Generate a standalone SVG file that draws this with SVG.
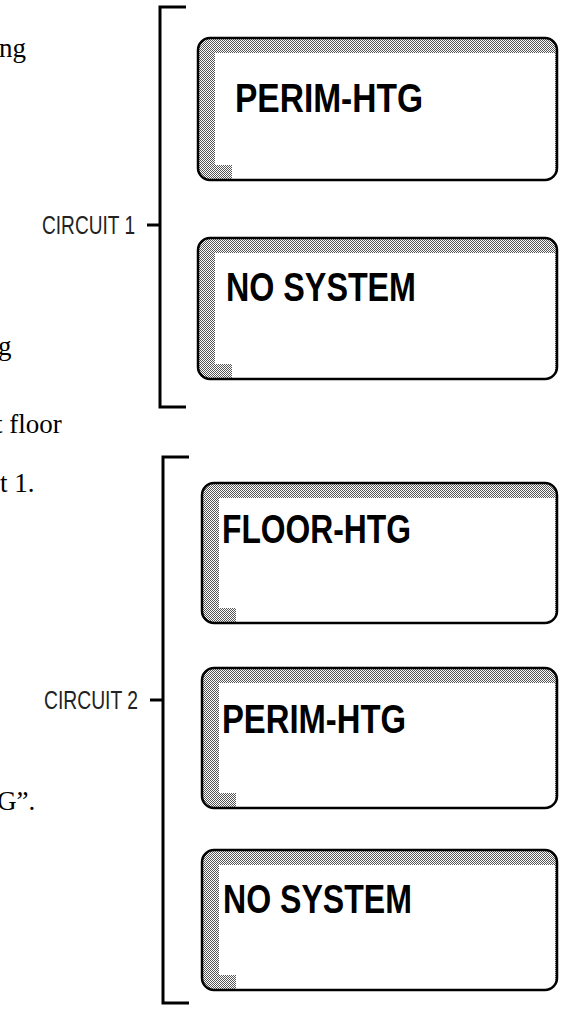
<svg xmlns="http://www.w3.org/2000/svg" width="564" height="1015" viewBox="0 0 564 1015">
<style>
.frame{fill:none;stroke:#000;stroke-width:2.5}
.shade{fill:url(#dither)}
.inner{fill:#fff}
.lbl{font-family:"Liberation Sans",Arial,sans-serif;font-weight:bold;font-size:40px;fill:#000}
.circ{font-family:"Liberation Sans",Arial,sans-serif;font-size:26px;fill:#222}
.body{font-family:"Liberation Serif","Times New Roman",serif;font-size:27px;fill:#000}
.br{fill:none;stroke:#000;stroke-width:3}
</style>
<defs>
<pattern id="dither" width="2" height="2" patternUnits="userSpaceOnUse">
<rect width="2" height="2" fill="#fff"/>
<rect width="1" height="1" fill="#555"/>
<rect x="1" y="1" width="1" height="1" fill="#555"/>
</pattern>
</defs>
<rect width="564" height="1015" fill="#fff"/>
<g id="body-text">
<text class="body" x="-1" y="57">ng</text>
<text class="body" x="-2" y="355">g</text>
<text class="body" x="-5" y="433">t floor</text>
<text class="body" x="0" y="492">t 1.</text>
<text class="body" x="-3" y="810">G”.</text>
</g>
<g id="connectors">
<path class="br" d="M186,7 H160 V407 H186"/>
<path class="br" d="M147,225 H160"/>
<path class="br" d="M189,457 H163 V1003 H189"/>
<path class="br" d="M150,700 H163"/>
</g>
<g id="circuit1-label"><text class="circ" x="42" y="234" textLength="93" lengthAdjust="spacingAndGlyphs">CIRCUIT 1</text></g>
<g id="circuit2-label"><text class="circ" x="44" y="709" textLength="94" lengthAdjust="spacingAndGlyphs">CIRCUIT 2</text></g>
<g id="c1-perim">
<rect class="shade" x="198" y="38" width="359" height="142" rx="12"/>
<path class="inner" d="M215,53 H555 V179 H232 V165 H215 Z"/>
<rect class="frame" x="198" y="38" width="359" height="142" rx="12"/>
<text class="lbl" x="235" y="112" textLength="188" lengthAdjust="spacingAndGlyphs">PERIM-HTG</text>
</g>
<g id="c1-none">
<rect class="shade" x="198" y="238" width="359" height="141" rx="12"/>
<path class="inner" d="M215,253 H555 V378 H232 V364 H215 Z"/>
<rect class="frame" x="198" y="238" width="359" height="141" rx="12"/>
<text class="lbl" x="226" y="301" textLength="190" lengthAdjust="spacingAndGlyphs">NO SYSTEM</text>
</g>
<g id="c2-floor">
<rect class="shade" x="202" y="483" width="355" height="140" rx="12"/>
<path class="inner" d="M219,498 H555 V622 H236 V608 H219 Z"/>
<rect class="frame" x="202" y="483" width="355" height="140" rx="12"/>
<text class="lbl" x="222" y="543" textLength="189" lengthAdjust="spacingAndGlyphs">FLOOR-HTG</text>
</g>
<g id="c2-perim">
<rect class="shade" x="202" y="668" width="355" height="140" rx="12"/>
<path class="inner" d="M219,683 H555 V807 H236 V793 H219 Z"/>
<rect class="frame" x="202" y="668" width="355" height="140" rx="12"/>
<text class="lbl" x="222" y="733" textLength="184" lengthAdjust="spacingAndGlyphs">PERIM-HTG</text>
</g>
<g id="c2-none">
<rect class="shade" x="202" y="850" width="355" height="140" rx="12"/>
<path class="inner" d="M219,865 H555 V989 H236 V975 H219 Z"/>
<rect class="frame" x="202" y="850" width="355" height="140" rx="12"/>
<text class="lbl" x="223" y="913" textLength="189" lengthAdjust="spacingAndGlyphs">NO SYSTEM</text>
</g>
</svg>
